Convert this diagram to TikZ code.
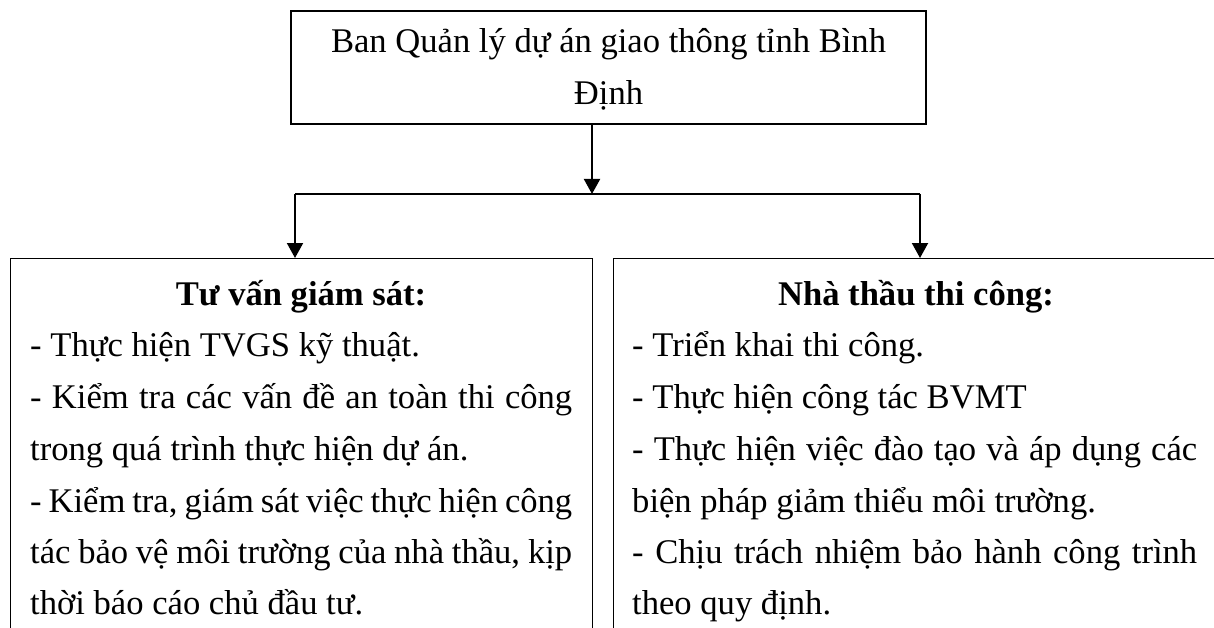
\documentclass[tikz,border=0pt]{standalone}
\usepackage{fontspec}
\setmainfont{Liberation Serif}
\usetikzlibrary{arrows.meta}
\begin{document}
\begin{tikzpicture}[x=1pt,y=-1pt,
  box/.style={draw, line width=1.2pt, inner sep=0pt},
  txt/.style={anchor=base west, inner sep=0pt, font=\fontsize{34.6}{52}\selectfont},
  ctxt/.style={anchor=base, inner sep=0pt, font=\fontsize{34.6}{52}\selectfont},
  btxt/.style={anchor=base, inner sep=0pt, font=\fontsize{34.6}{52}\selectfont\bfseries},
  arr/.style={line width=2pt, -{Triangle[width=16pt,length=15pt]}},
  conn/.style={line width=1.5pt}]
\useasboundingbox (0,0) rectangle (1214,628);
\clip (0,0) rectangle (1214,628);
% top box
\node[box, minimum width=635pt, minimum height=113pt] (top) at (608.5,67.5) {};
\node[ctxt] (t1) at (608.5,53) {Ban Quản lý dự án giao thông tỉnh Bình};
\node[ctxt] (t2) at (608.5,105) {Định};
% lower boxes
\node[box, anchor=north west, minimum width=582pt, minimum height=450pt] (lbox) at (10,258) {};
\node[box, anchor=north west, minimum width=606pt, minimum height=450pt] (rbox) at (613,258) {};
% connectors
\coordinate (j) at (592,194);
\coordinate (jl) at (295,194);
\coordinate (jr) at (920,194);
\draw[arr] (top.south -| j) -- (j);
\draw[conn] (jl) -- (jr);
\draw[arr] (jl) -- (jl |- lbox.north);
\draw[arr] (jr) -- (jr |- rbox.north);
% left text
\node[btxt] (lt) at (301,305) {Tư vấn giám sát:};
\node[txt] (l1) at (30,356) {- Thực hiện TVGS kỹ thuật.};
\node[txt] (l2) at (30,408) {\makebox[542pt][s]{- Kiểm tra các vấn đề an toàn thi công}};
\node[txt] (l3) at (30,460) {trong quá trình thực hiện dự án.};
\node[txt] (l4) at (30,512) {\makebox[542pt][s]{- Kiểm tra, giám sát việc thực hiện công}};
\node[txt] (l5) at (30,563) {\makebox[542pt][s]{tác bảo vệ môi trường của nhà thầu, kịp}};
\node[txt] (l6) at (30,614) {thời báo cáo chủ đầu tư.};
% right text
\node[btxt] (rt) at (916,305) {Nhà thầu thi công:};
\node[txt] (r1) at (632,356) {- Triển khai thi công.};
\node[txt] (r2) at (632,408) {- Thực hiện công tác BVMT};
\node[txt] (r3) at (632,460) {\makebox[565pt][s]{- Thực hiện việc đào tạo và áp dụng các}};
\node[txt] (r4) at (632,512) {biện pháp giảm thiểu môi trường.};
\node[txt] (r5) at (632,563) {\makebox[565pt][s]{- Chịu trách nhiệm bảo hành công trình}};
\node[txt] (r6) at (632,614) {theo quy định.};
\end{tikzpicture}
\end{document}
